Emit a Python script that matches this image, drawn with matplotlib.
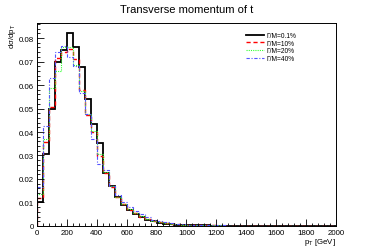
import matplotlib
matplotlib.use('Agg')
import matplotlib.pyplot as plt
import numpy as np
from matplotlib.ticker import MultipleLocator, FormatStrFormatter

plt.rcParams['font.family'] = ['Liberation Sans', 'DejaVu Sans']

# 40 GeV bins from 0 to 2000 GeV
bin_edges = np.arange(0, 2001, 40)

w01 = [0.0102, 0.0306, 0.0500, 0.0697, 0.0748, 0.0820, 0.0762, 0.0678, 0.0540, 0.0435,
       0.0355, 0.0227, 0.0172, 0.0125, 0.0088, 0.0068, 0.0050, 0.0036, 0.0025, 0.0019,
       0.0014, 0.0010, 0.0008, 0.0006, 0.0004, 0.0003, 0.0003, 0.0002, 0.0002, 0.0001,
       0.0001, 0.0001, 0.0001, 0.0, 0.0, 0.0, 0.0, 0.0, 0.0, 0.0,
       0.0, 0.0, 0.0, 0.0, 0.0, 0.0, 0.0, 0.0, 0.0, 0.0]
w10 = [0.0118, 0.0359, 0.0508, 0.0715, 0.0742, 0.0755, 0.0712, 0.0578, 0.0472, 0.0400,
       0.0297, 0.0226, 0.0165, 0.0122, 0.0092, 0.0070, 0.0054, 0.0040, 0.0029, 0.0021,
       0.0016, 0.0012, 0.0009, 0.0007, 0.0005, 0.0004, 0.0003, 0.0003, 0.0002, 0.0002,
       0.0001, 0.0001, 0.0001, 0.0001, 0.0, 0.0, 0.0, 0.0, 0.0, 0.0,
       0.0, 0.0, 0.0, 0.0, 0.0, 0.0, 0.0, 0.0, 0.0, 0.0]
w20 = [0.0136, 0.0370, 0.0587, 0.0658, 0.0760, 0.0760, 0.0685, 0.0575, 0.0475, 0.0405,
       0.0305, 0.0228, 0.0168, 0.0125, 0.0095, 0.0073, 0.0056, 0.0042, 0.0031, 0.0023,
       0.0018, 0.0013, 0.0010, 0.0008, 0.0006, 0.0005, 0.0004, 0.0003, 0.0002, 0.0002,
       0.0002, 0.0001, 0.0001, 0.0001, 0.0001, 0.0, 0.0, 0.0, 0.0, 0.0,
       0.0, 0.0, 0.0, 0.0, 0.0, 0.0, 0.0, 0.0, 0.0, 0.0]
w40 = [0.0167, 0.0424, 0.0630, 0.0740, 0.0767, 0.0718, 0.0680, 0.0565, 0.0478, 0.0370,
       0.0265, 0.0240, 0.0170, 0.0130, 0.0100, 0.0080, 0.0065, 0.0050, 0.0036, 0.0027,
       0.0021, 0.0016, 0.0012, 0.0009, 0.0007, 0.0006, 0.0005, 0.0004, 0.0003, 0.0003,
       0.0002, 0.0002, 0.0001, 0.0001, 0.0001, 0.0001, 0.0, 0.0, 0.0, 0.0,
       0.0, 0.0, 0.0, 0.0, 0.0, 0.0, 0.0, 0.0, 0.0, 0.0]

labels = ['\u0393/M=0.1%', '\u0393/M=10%', '\u0393/M=20%', '\u0393/M=40%']

fig = plt.figure(figsize=(3.74, 2.53), dpi=100)
ax = fig.add_axes([0.099, 0.103, 0.799, 0.802])

ax.stairs(w01, bin_edges, color='black', lw=1.3, ls='-', label=labels[0])
ax.stairs(w10, bin_edges, color='red', lw=1.0, ls=(0, (3, 2)), label=labels[1])
ax.stairs(w20, bin_edges, color='#33ff33', lw=0.8, ls=(0, (1, 1)), label=labels[2])
ax.stairs(w40, bin_edges, color='#5555ff', lw=0.8, ls=(0, (3, 1.5, 1, 1.5)), label=labels[3])

ax.set_xlim(0, 2000)
ax.set_ylim(0, 0.0864)
ax.xaxis.set_major_locator(MultipleLocator(200))
ax.xaxis.set_minor_locator(MultipleLocator(40))
ax.yaxis.set_major_locator(MultipleLocator(0.01))
ax.yaxis.set_minor_locator(MultipleLocator(0.002))
ax.yaxis.set_major_formatter(FormatStrFormatter('%g'))
ax.tick_params(which='both', direction='in', labelsize=5.7, width=0.6, pad=2)
ax.tick_params(which='major', length=5)
ax.tick_params(which='minor', length=2.5)
for s in ax.spines.values():
    s.set_linewidth(0.7)

ax.set_title('Transverse momentum of t', fontsize=8, pad=8)
ax.set_xlabel('p$_\\mathregular{T}$ [GeV]', fontsize=5.7, loc='right', labelpad=0)
ax.set_ylabel('d\u03c3/dp$_\\mathregular{T}$', fontsize=5.7, loc='top', labelpad=1)

ax.legend(loc='upper left', bbox_to_anchor=(0.68, 0.985), frameon=False, fontsize=4.8,
          handlelength=2.6, handletextpad=0.5, labelspacing=0.1)

fig.savefig('out.png', dpi=100)
